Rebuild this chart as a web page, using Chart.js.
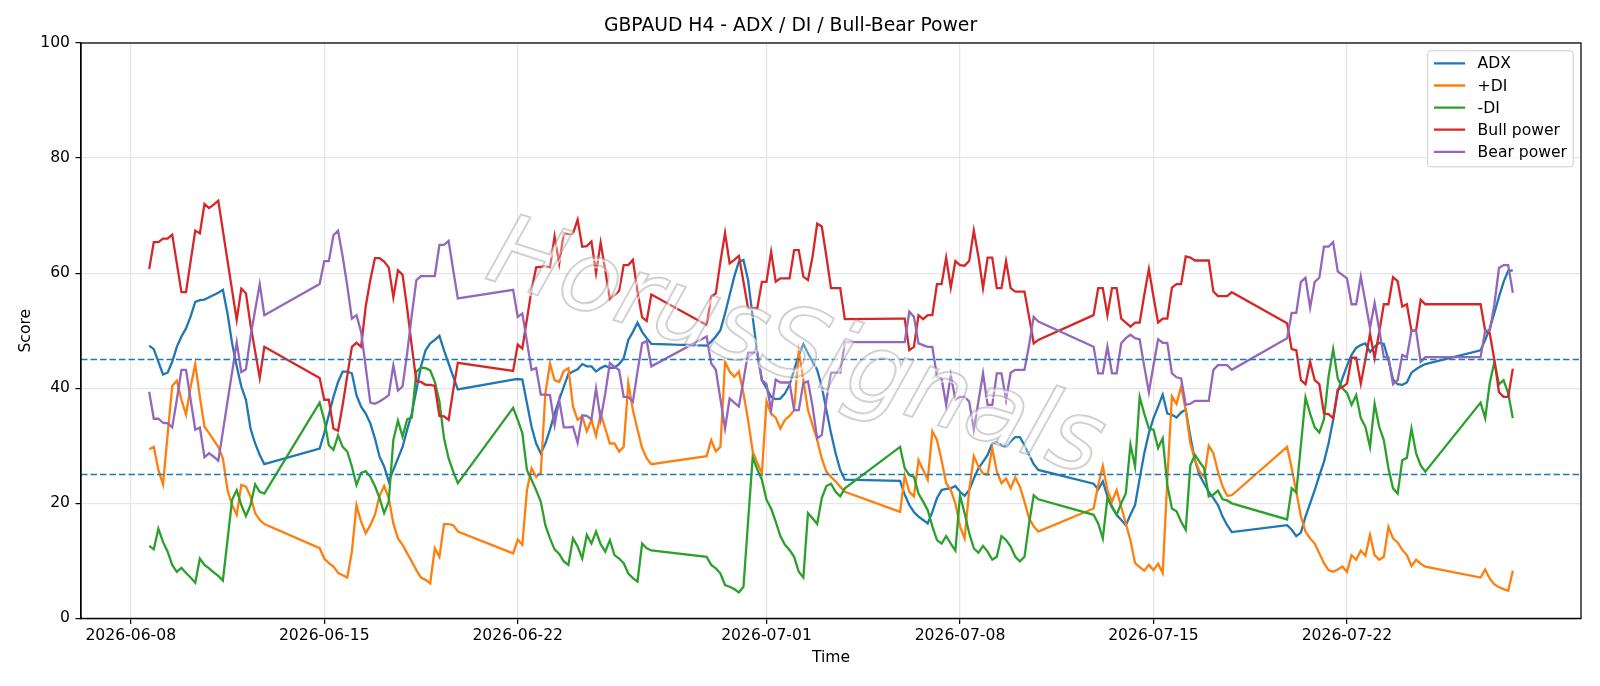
<!DOCTYPE html>
<html>
<head>
<meta charset="utf-8">
<title>GBPAUD H4 - ADX / DI / Bull-Bear Power</title>
<script src="https://cdn.jsdelivr.net/npm/chart.js@4.4.1/dist/chart.umd.min.js"></script>
<style>
  html, body { margin: 0; padding: 0; background: #ffffff; }
  #wrap { width: 1600px; height: 686px; }
</style>
</head>
<body>
<div id="wrap"><canvas id="adxChart" width="1600" height="686"></canvas></div>
<script>
// H4 bars, given as hours after 2026-06-08 00:00 UTC (weekends have no bars)
const startTime = "2026-06-08T00:00:00Z"
const barHours = [
  16, 20, 24, 28, 32, 36, 40, 44, 48, 52, 56, 60, 64, 68, 72, 76, 80, 84, 88, 92, 96, 100, 104, 108, 112, 116,
  164, 168, 172, 176, 180, 184, 188, 192, 196, 200, 204, 208, 212, 216, 220, 224, 228, 232, 236, 240, 244, 248, 252, 256, 260, 264, 268, 272, 276, 280, 284,
  332, 336, 340, 344, 348, 352, 356, 360, 364, 368, 372, 376, 380, 384, 388, 392, 396, 400, 404, 408, 412, 416, 420, 424, 428, 432, 436, 440, 444, 448, 452,
  500, 504, 508, 512, 516, 520, 524, 528, 532, 536, 540, 544, 548, 552, 556, 560, 564, 568, 572, 576, 580, 584, 588, 592, 596, 600, 604, 608, 612, 616, 620,
  668, 672, 676, 680, 684, 688, 692, 696, 700, 704, 708, 712, 716, 720, 724, 728, 732, 736, 740, 744, 748, 752, 756, 760, 764, 768, 772, 776, 780, 784, 788,
  836, 840, 844, 848, 852, 856, 860, 864, 868, 872, 876, 880, 884, 888, 892, 896, 900, 904, 908, 912, 916, 920, 924, 928, 932, 936, 940, 944, 948, 952, 956,
  1004, 1008, 1012, 1016, 1020, 1024, 1028, 1032, 1036, 1040, 1044, 1048, 1052, 1056, 1060, 1064, 1068, 1072, 1076, 1080, 1084, 1088, 1092, 1096, 1100, 1104, 1108, 1112, 1116, 1120, 1124,
  1172, 1176, 1180, 1184, 1188, 1192, 1196, 1200,
]

const adx = [
  47.4, 46.8, 44.6, 42.4, 42.7, 44.6, 47.2, 49.0, 50.4, 52.5, 55.0, 55.3, 55.4, 55.8, 56.2, 56.6, 57.1, 53.0, 47.8, 43.8, 40.3, 38.0, 33.0, 30.4, 28.4, 26.8,
  29.5, 32.2, 35.4, 38.5, 41.1, 42.9, 42.9, 42.6, 38.8, 36.8, 35.6, 33.9, 31.3, 28.1, 26.4, 23.8, 25.8, 27.8, 29.8, 32.8, 35.6, 39.7, 43.8, 46.6, 47.8, 48.4, 49.1, 46.6, 44.3, 42.0, 39.8,
  41.5, 41.6, 41.5, 37.4, 33.3, 30.4, 28.7, 30.4, 32.8, 35.6, 38.0, 40.3, 42.5, 42.9, 43.3, 44.2, 43.8, 43.8, 42.9, 43.5, 43.9, 43.5, 43.6, 44.2, 45.2, 48.4, 49.8, 51.4, 49.8, 48.7, 47.7,
  47.4, 48.1, 49.0, 50.1, 53.0, 56.2, 59.4, 62.0, 62.3, 58.8, 52.4, 46.1, 41.4, 40.0, 38.5, 38.1, 38.2, 39.1, 40.6, 43.2, 45.8, 47.7, 46.1, 44.6, 43.2, 40.3, 36.2, 32.2, 28.7, 25.8, 24.1,
  23.9, 21.5, 19.7, 18.5, 17.7, 17.1, 16.5, 18.5, 20.9, 22.3, 22.5, 22.6, 23.0, 22.0, 21.3, 22.3, 24.3, 26.1, 27.2, 28.4, 30.4, 30.7, 30.1, 29.8, 30.8, 31.5, 31.5, 30.1, 28.4, 26.8, 25.8,
  23.4, 22.4, 23.8, 21.2, 19.3, 18.0, 17.1, 16.2, 18.0, 19.7, 24.3, 28.7, 32.2, 34.8, 36.8, 38.9, 35.6, 35.4, 34.9, 35.8, 36.3, 31.6, 27.5, 24.9, 23.4, 22.0, 20.9, 19.7, 17.7, 16.2, 15.0,
  16.2, 15.4, 14.3, 14.9, 17.7, 20.0, 22.3, 24.8, 27.2, 30.4, 34.5, 39.4, 41.7, 43.9, 45.8, 47.0, 47.5, 47.8, 46.3, 47.2, 47.9, 47.7, 44.9, 41.5, 40.7, 40.6, 41.0, 42.7, 43.3, 43.8, 44.2,
  46.6, 48.4, 50.4, 53.1, 55.9, 58.5, 60.4, 60.5,
]

const plusDI = [
  29.4, 29.8, 25.8, 23.3, 31.9, 40.4, 41.3, 38.0, 35.4, 40.3, 44.2, 38.5, 33.3, 32.2, 31.0, 29.8, 27.8, 22.3, 19.7, 18.0, 23.2, 22.9, 21.2, 18.3, 17.1, 16.4,
  12.2, 10.4, 9.6, 9.0, 7.9, 7.5, 7.1, 11.6, 19.7, 16.8, 14.8, 16.2, 18.0, 21.3, 23.0, 20.9, 16.5, 13.9, 12.8, 11.3, 9.9, 8.4, 7.1, 6.7, 6.1, 12.2, 10.7, 16.4, 16.4, 16.2, 15.1,
  11.3, 13.7, 12.8, 22.3, 26.1, 24.6, 25.3, 39.1, 44.3, 41.4, 41.1, 43.0, 43.5, 36.8, 34.5, 35.1, 32.5, 34.5, 31.7, 35.6, 33.0, 30.4, 30.4, 29.0, 29.8, 40.9, 36.2, 32.8, 29.6, 27.8, 26.8,
  28.2, 31.0, 29.0, 29.8, 44.6, 42.9, 42.0, 42.9, 39.1, 34.5, 29.0, 27.0, 25.2, 37.7, 35.6, 34.9, 33.0, 34.5, 35.2, 36.2, 46.4, 41.4, 36.2, 33.6, 31.0, 27.8, 25.5, 24.6, 23.8, 22.9, 22.0,
  18.5, 24.8, 22.0, 21.2, 27.5, 25.8, 24.1, 32.5, 31.0, 27.5, 23.5, 22.3, 20.0, 16.0, 13.9, 22.3, 28.2, 26.4, 25.2, 25.0, 29.6, 25.5, 23.5, 24.3, 22.6, 24.5, 22.9, 20.3, 17.4, 16.0, 15.1,
  19.1, 23.2, 26.5, 22.3, 20.3, 22.3, 19.4, 16.5, 13.6, 9.6, 8.9, 8.3, 9.3, 8.4, 9.5, 7.9, 24.1, 38.6, 37.3, 40.3, 36.2, 30.4, 27.5, 25.5, 24.6, 30.0, 28.7, 25.5, 22.9, 21.3, 21.4,
  29.8, 26.1, 22.0, 17.7, 15.1, 13.9, 13.0, 11.3, 9.6, 8.4, 8.1, 8.5, 9.0, 8.1, 11.0, 10.2, 11.8, 10.9, 14.5, 11.0, 10.2, 10.7, 15.9, 13.9, 13.2, 11.9, 11.0, 9.1, 10.2, 9.5, 9.0,
  7.1, 8.5, 6.9, 5.9, 5.4, 5.1, 4.8, 8.3,
]

const minusDI = [
  12.6, 12.0, 15.6, 13.3, 11.6, 9.3, 8.1, 8.8, 7.9, 7.1, 6.2, 10.4, 9.3, 8.7, 8.0, 7.4, 6.6, 13.6, 20.6, 22.3, 19.7, 17.8, 19.7, 23.3, 22.0, 21.7,
  37.5, 34.5, 30.1, 29.3, 31.8, 29.8, 29.0, 26.4, 23.2, 25.3, 25.6, 24.6, 23.0, 20.9, 18.3, 20.3, 31.0, 34.4, 31.6, 34.6, 34.9, 42.9, 43.6, 43.5, 43.1, 41.1, 37.7, 31.3, 27.8, 25.5, 23.5,
  36.6, 34.5, 32.2, 25.8, 24.1, 22.3, 20.3, 16.2, 13.9, 12.0, 11.2, 9.9, 9.3, 13.9, 12.5, 10.4, 14.5, 13.0, 15.1, 12.9, 11.6, 13.6, 11.0, 10.4, 9.6, 7.8, 7.0, 6.4, 13.0, 12.2, 11.8,
  10.7, 9.3, 8.7, 7.8, 5.8, 5.5, 5.1, 4.5, 5.5, 16.8, 28.0, 25.9, 24.1, 20.6, 19.1, 16.8, 14.3, 12.8, 11.9, 10.7, 8.1, 7.1, 18.3, 17.4, 16.4, 20.9, 23.0, 23.4, 22.0, 21.2, 22.6,
  29.8, 26.1, 24.9, 24.6, 21.7, 20.3, 18.8, 16.0, 13.6, 13.0, 14.3, 13.0, 11.8, 21.4, 18.3, 14.8, 12.2, 11.4, 12.6, 11.6, 10.2, 10.7, 14.3, 13.6, 12.5, 10.7, 9.9, 10.7, 16.5, 21.4, 20.7,
  18.0, 16.5, 13.9, 20.9, 19.5, 18.0, 20.0, 21.7, 30.2, 26.4, 38.5, 35.6, 33.0, 32.8, 29.6, 31.3, 23.2, 19.1, 18.6, 16.8, 15.4, 26.6, 28.4, 27.2, 26.1, 21.2, 21.5, 22.2, 20.7, 20.5, 20.0,
  17.2, 22.6, 21.9, 30.1, 38.4, 35.6, 33.2, 32.3, 34.6, 42.0, 46.8, 41.7, 40.0, 39.2, 37.1, 38.8, 34.8, 33.3, 29.8, 37.3, 33.3, 31.0, 26.1, 22.6, 21.7, 27.5, 27.9, 33.0, 28.7, 26.6, 25.5,
  37.5, 34.8, 40.9, 44.6, 40.7, 41.4, 39.1, 34.8,
]

const bullPower = [
  60.7, 65.4, 65.4, 66.0, 66.0, 66.7, 61.7, 56.7, 56.7, 62.1, 67.4, 66.9, 72.0, 71.3, 71.9, 72.6, 67.4, 62.2, 57.0, 51.9, 57.3, 56.5, 51.0, 46.4, 41.8, 47.2,
  41.8, 38.0, 38.0, 33.0, 32.6, 37.1, 42.2, 47.2, 47.9, 47.2, 54.2, 58.8, 62.6, 62.6, 62.0, 61.0, 55.8, 60.5, 59.7, 53.9, 47.3, 41.2, 41.1, 40.6, 40.6, 40.4, 35.2, 35.1, 34.5, 39.7, 44.4,
  43.0, 47.6, 46.9, 52.0, 57.1, 61.0, 61.1, 61.2, 61.0, 66.4, 61.7, 67.0, 66.8, 66.9, 69.3, 64.6, 64.7, 65.5, 60.0, 65.3, 60.5, 55.4, 56.2, 56.9, 61.4, 61.4, 62.3, 56.8, 52.3, 51.7, 56.3,
  51.0, 55.9, 56.5, 62.0, 67.0, 61.7, 62.3, 63.0, 58.5, 53.9, 53.9, 53.9, 58.5, 58.5, 63.7, 58.5, 59.1, 59.1, 59.1, 64.0, 64.0, 59.4, 58.8, 62.9, 68.6, 68.1, 62.9, 57.4, 57.4, 57.4, 52.0,
  52.1, 52.1, 46.6, 47.2, 52.7, 52.0, 52.7, 52.7, 58.1, 58.1, 62.7, 57.5, 62.1, 61.4, 61.3, 62.1, 67.4, 62.9, 57.4, 62.7, 62.7, 57.4, 57.4, 62.1, 57.4, 56.8, 56.8, 56.8, 52.4, 47.8, 48.4,
  52.7, 57.4, 57.4, 52.7, 57.4, 57.4, 52.1, 51.4, 50.7, 51.4, 51.4, 56.2, 60.7, 55.9, 51.4, 52.1, 52.1, 57.5, 58.1, 58.1, 62.9, 62.7, 62.2, 62.2, 62.2, 62.2, 56.8, 56.0, 56.0, 56.0, 56.7,
  51.3, 46.8, 46.6, 41.4, 40.7, 44.6, 41.4, 40.7, 35.6, 35.5, 34.8, 39.8, 40.2, 40.8, 45.3, 45.3, 40.8, 45.0, 49.5, 45.2, 49.8, 54.6, 54.6, 59.3, 58.6, 54.2, 54.6, 50.0, 50.0, 55.4, 54.6,
  54.6, 50.0, 49.5, 44.9, 39.3, 38.5, 38.5, 43.4,
]

const bearPower = [
  39.4, 34.7, 34.7, 34.0, 33.9, 33.2, 38.0, 43.2, 43.2, 38.0, 32.8, 33.2, 28.0, 28.7, 28.1, 27.4, 32.5, 37.7, 42.8, 48.0, 42.8, 43.3, 49.0, 53.6, 58.1, 52.7,
  58.1, 62.1, 62.1, 66.6, 67.4, 62.9, 57.8, 52.1, 52.7, 49.8, 43.7, 37.5, 37.3, 37.7, 38.2, 38.8, 44.0, 39.6, 40.3, 46.1, 52.7, 58.8, 59.5, 59.5, 59.5, 59.5, 64.9, 64.9, 65.6, 60.5, 55.6,
  57.1, 52.4, 53.0, 48.1, 43.2, 43.5, 38.9, 38.9, 38.8, 33.6, 38.0, 33.2, 33.2, 33.3, 30.5, 35.3, 35.2, 34.6, 40.0, 34.6, 39.1, 44.4, 43.7, 43.2, 38.5, 38.5, 37.7, 42.9, 47.8, 48.2, 43.8,
  49.0, 44.3, 43.2, 38.1, 33.0, 38.2, 37.5, 36.8, 41.4, 46.2, 46.2, 46.2, 41.4, 40.7, 36.2, 41.5, 41.0, 41.0, 41.0, 36.2, 36.2, 40.9, 41.2, 36.8, 31.3, 31.9, 38.0, 42.7, 42.7, 42.7, 48.0,
  48.0, 48.0, 53.3, 52.4, 47.8, 47.5, 47.2, 47.2, 42.0, 41.7, 37.1, 42.3, 38.0, 38.5, 38.5, 37.7, 32.8, 37.7, 42.6, 37.1, 37.1, 42.6, 42.6, 38.0, 42.7, 43.2, 43.2, 43.2, 47.5, 52.4, 51.6,
  47.2, 42.6, 42.6, 47.2, 42.6, 42.6, 47.8, 48.7, 49.3, 48.7, 48.5, 43.8, 39.3, 44.0, 48.5, 47.9, 47.9, 42.6, 41.9, 41.7, 37.1, 37.3, 37.8, 37.8, 37.8, 37.8, 43.2, 44.0, 44.0, 44.0, 43.2,
  48.7, 53.1, 53.1, 58.5, 59.2, 54.0, 58.5, 59.2, 64.6, 64.6, 65.4, 60.3, 59.7, 59.1, 54.6, 54.6, 59.4, 55.0, 50.5, 54.8, 50.2, 45.4, 45.4, 40.7, 41.4, 45.8, 45.4, 50.0, 50.0, 44.6, 45.4,
  45.4, 50.0, 50.0, 54.6, 60.9, 61.4, 61.4, 56.6,
]

const tickLabels = ["2026-06-08", "2026-06-15", "2026-06-22", "2026-07-01", "2026-07-08", "2026-07-15", "2026-07-22"]
const yTicks = [0, 20, 40, 60, 80, 100]
const levels = [45, 25]
const watermark = "HorusSignals"

const FONT = "'DejaVu Sans', 'Liberation Sans', sans-serif"
const hourOf = (day) => (Date.parse(day + "T00:00:00Z") - Date.parse(startTime)) / 3600000
const tickHours = tickLabels.map(hourOf)
const toPoints = (values) => barHours.map((h, i) => ({ x: h, y: values[i] }))

const seriesDefs = [
  { label: "ADX", values: adx, color: "#1f77b4" },
  { label: "+DI", values: plusDI, color: "#ff7f0e" },
  { label: "-DI", values: minusDI, color: "#2ca02c" },
  { label: "Bull power", values: bullPower, color: "#d62728" },
  { label: "Bear power", values: bearPower, color: "#9467bd" },
]

// dashed reference levels, box, legend and watermark (matplotlib look)
const extrasPlugin = {
  id: "extras",
  afterDatasetsDraw(chart) {
    const { ctx, chartArea, scales } = chart
    ctx.save()
    ctx.strokeStyle = "#1f77b4"
    ctx.lineWidth = 1.6
    ctx.setLineDash([6.5, 3])
    levels.forEach((lv) => {
      const y = scales.y.getPixelForValue(lv)
      ctx.beginPath()
      ctx.moveTo(chartArea.left, y)
      ctx.lineTo(chartArea.right, y)
      ctx.stroke()
    })
    ctx.restore()

    ctx.save()
    ctx.strokeStyle = "#000"
    ctx.lineWidth = 1.25
    ctx.strokeRect(chartArea.left, chartArea.top, chartArea.right - chartArea.left, chartArea.bottom - chartArea.top)
    ctx.restore()
  },
  afterDraw(chart) {
    const { ctx, chartArea } = chart
    const fs = 15.6

    // legend, upper right
    ctx.save()
    ctx.font = fs + "px " + FONT
    const textW = Math.max(...seriesDefs.map((s) => ctx.measureText(s.label).width))
    const w = 6.2 + 31.2 + 12.5 + textW + 6.2
    const h = 116
    const right = chartArea.right - 7.8
    const top = chartArea.top + 7.8
    const left = right - w
    ctx.beginPath()
    ctx.roundRect(left, top, w, h, 3)
    ctx.fillStyle = "rgba(255,255,255,0.8)"
    ctx.fill()
    ctx.strokeStyle = "#cccccc"
    ctx.lineWidth = 1
    ctx.stroke()
    seriesDefs.forEach((s, i) => {
      const y = top + 12.6 + 22.1 * i
      ctx.strokeStyle = s.color
      ctx.lineWidth = 2.3
      ctx.beginPath()
      ctx.moveTo(left + 6.2, y)
      ctx.lineTo(left + 6.2 + 31.2, y)
      ctx.stroke()
      ctx.fillStyle = "#000"
      ctx.textBaseline = "middle"
      ctx.textAlign = "left"
      ctx.fillText(s.label, left + 49.9, y + 1)
    })
    ctx.restore()

    // watermark
    ctx.save()
    ctx.translate(795, 352)
    ctx.rotate((18 * Math.PI) / 180)
    ctx.font = "italic 98px " + FONT
    ctx.textAlign = "center"
    ctx.textBaseline = "middle"
    ctx.lineWidth = 2
    ctx.strokeStyle = "rgba(255,255,255,0.6)"
    ctx.strokeText(watermark, 2, 2)
    ctx.strokeStyle = "rgba(150,150,150,0.5)"
    ctx.strokeText(watermark, 0, 0)
    ctx.fillStyle = "rgba(255,255,255,0.3)"
    ctx.fillText(watermark, 0, 0)
    ctx.restore()
  },
}

document.addEventListener("DOMContentLoaded", () => {
  const adxCtx = document.getElementById("adxChart")

  new Chart(adxCtx, {
    type: "line",
    data: {
      datasets: seriesDefs.map((s, i) => ({
        label: s.label,
        data: toPoints(s.values),
        borderColor: s.color,
        backgroundColor: s.color,
        borderWidth: 2.3,
        pointRadius: 0,
        tension: 0,
        fill: false,
        order: seriesDefs.length - i,
      })),
    },
    options: {
      responsive: false,
      animation: false,
      devicePixelRatio: 1,
      layout: { padding: { left: 0, right: 19, top: 0, bottom: 0 } },
      plugins: {
        legend: { display: false },
        tooltip: { enabled: false },
        title: {
          display: true,
          text: "GBPAUD H4 - ADX / DI / Bull-Bear Power",
          color: "#000",
          font: { family: FONT, size: 18.75, weight: "normal" },
          padding: { top: 14.75, bottom: 5.75 },
        },
      },
      scales: {
        x: {
          type: "linear",
          min: -43.2,
          max: 1259.2,
          afterBuildTicks: (scale) => {
            scale.ticks = tickHours.map((v) => ({ value: v }))
          },
          afterFit: (scale) => {
            scale.height = 67.6
          },
          ticks: {
            callback: (value, index) => tickLabels[index],
            color: "#000",
            font: { family: FONT, size: 15.6 },
            padding: 3,
            maxRotation: 0,
            autoSkip: false,
          },
          grid: { color: "#e6e6e6", lineWidth: 1.2, tickColor: "#000", tickLength: 5.5, tickWidth: 1.25 },
          border: { color: "#000", width: 1.25 },
          title: {
            display: true,
            text: "Time",
            color: "#000",
            font: { family: FONT, size: 15.6 },
            padding: { top: 0, bottom: 19 },
          },
        },
        y: {
          min: 0,
          max: 100,
          afterBuildTicks: (scale) => {
            scale.ticks = yTicks.map((v) => ({ value: v }))
          },
          afterFit: (scale) => {
            scale.width = 81
          },
          ticks: {
            color: "#000",
            font: { family: FONT, size: 15.6 },
            padding: 5.5,
          },
          grid: { color: "#e6e6e6", lineWidth: 1.2, tickColor: "#000", tickLength: 5.5, tickWidth: 1.25 },
          border: { color: "#000", width: 1.25 },
          title: {
            display: true,
            text: "Score",
            color: "#000",
            font: { family: FONT, size: 15.6 },
            padding: { top: 16.1, bottom: 0 },
          },
        },
      },
    },
    plugins: [extrasPlugin],
  })
})
</script>
</body>
</html>
